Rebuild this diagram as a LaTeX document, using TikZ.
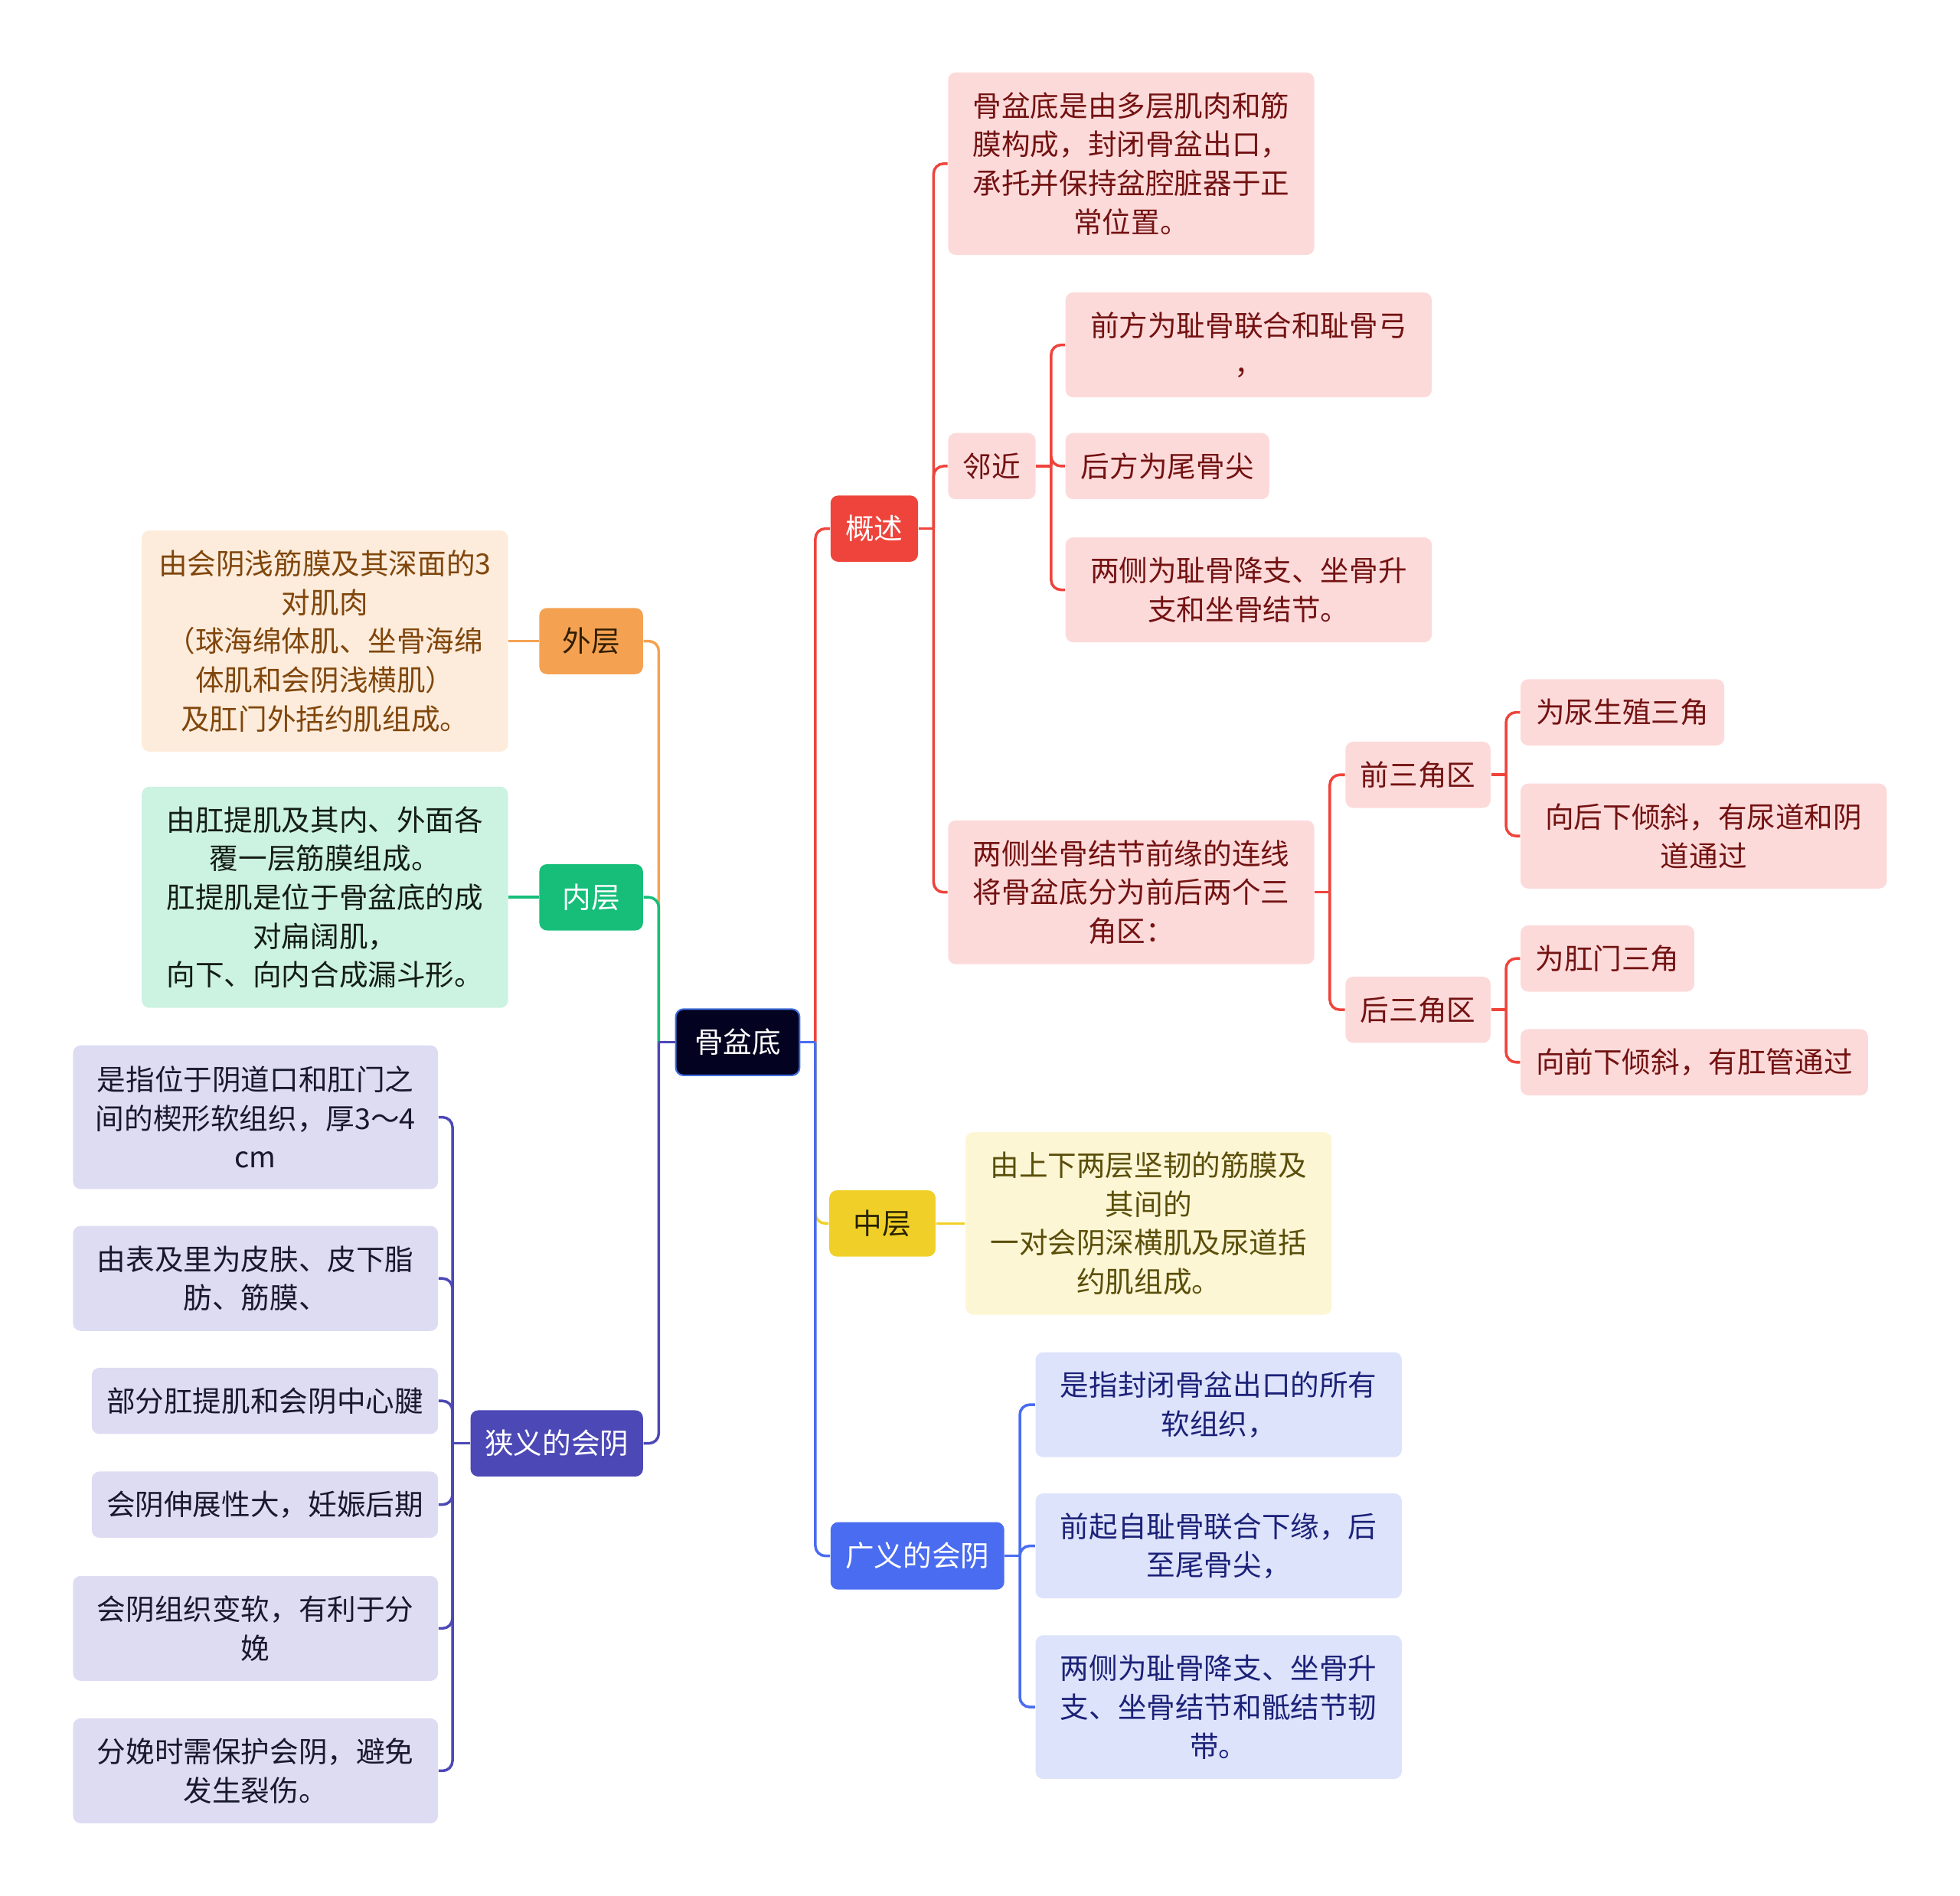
\documentclass[tikz,border=0pt]{standalone}
\usepackage{fontspec}
\usepackage{tikz}
\newfontfamily\cjk{Noto Sans CJK SC}
\definecolor{rootfill}{RGB}{3,3,33}
\definecolor{rootline}{RGB}{62,110,220}
\definecolor{redmain}{RGB}{238,68,60}
\definecolor{redsoft}{RGB}{253,218,218}
\definecolor{redtext}{RGB}{115,18,18}
\definecolor{yelmain}{RGB}{240,208,40}
\definecolor{yelsoft}{RGB}{253,246,212}
\definecolor{yeltext}{RGB}{90,78,10}
\definecolor{yeldark}{RGB}{40,35,0}
\definecolor{bluemain}{RGB}{74,108,240}
\definecolor{bluesoft}{RGB}{221,227,251}
\definecolor{bluetext}{RGB}{28,34,120}
\definecolor{orgmain}{RGB}{244,162,82}
\definecolor{orgsoft}{RGB}{253,236,219}
\definecolor{orgtext}{RGB}{128,70,12}
\definecolor{orgdark}{RGB}{50,30,0}
\definecolor{grnmain}{RGB}{22,190,122}
\definecolor{grnsoft}{RGB}{204,242,225}
\definecolor{grntext}{RGB}{20,30,20}
\definecolor{purmain}{RGB}{76,72,182}
\definecolor{pursoft}{RGB}{221,220,243}
\definecolor{purtext}{RGB}{25,25,45}

\tikzset{
  card/.style={rectangle, rounded corners=0.1cm, inner sep=0pt, align=center,
    anchor=west, font=\cjk\fontsize{10.7pt}{14.4pt}\selectfont},
  sz/.style 2 args={minimum width=#1*0.016327cm, minimum height=#2*0.016327cm},
  redcard/.style={card, fill=redsoft, text=redtext},
  yelcard/.style={card, fill=yelsoft, text=yeltext},
  bluecard/.style={card, fill=bluesoft, text=bluetext},
  orgcard/.style={card, fill=orgsoft, text=orgtext},
  grncard/.style={card, fill=grnsoft, text=grntext},
  purcard/.style={card, fill=pursoft, text=purtext},
  link/.style={line width=1pt, rounded corners=0.13cm}
}

\begin{document}
\begin{tikzpicture}[x=0.016327cm, y=-0.016327cm]

    \useasboundingbox (0,0) rectangle (1568,1517);

    % centre
    \node[card, sz={99}{53}, fill=rootfill, draw=rootline, line width=0.6pt,
      text=white] (root) at (540,834) {骨盆底};

    % right side
    \node[card, sz={70}{53}, fill=redmain, text=white] (gs) at (664,423) {概述};
    \node[card, sz={85}{53}, fill=yelmain, text=yeldark] (zc) at (663,979) {中层};
    \node[card, sz={139}{54}, fill=bluemain, text=white] (gy) at (664,1245) {广义的会阴};

    \node[redcard, sz={293}{146}] (gs1) at (758,131)
      {骨盆底是由多层肌肉和筋\\膜构成，封闭骨盆出口，\\承托并保持盆腔脏器于正\\常位置。};
    \node[redcard, sz={70}{53}] (lj) at (758,373) {邻近};
    \node[redcard, sz={293}{115}] (gs3) at (758,714)
      {两侧坐骨结节前缘的连线\\将骨盆底分为前后两个三\\角区：};

    \node[redcard, sz={293}{84}] (lj1) at (852,276) {前方为耻骨联合和耻骨弓\\，};
    \node[redcard, sz={163}{53}] (lj2) at (852,373) {后方为尾骨尖};
    \node[redcard, sz={293}{84}] (lj3) at (852,472) {两侧为耻骨降支、坐骨升\\支和坐骨结节。};

    \node[redcard, sz={116}{53}] (qsj) at (1076,620) {前三角区};
    \node[redcard, sz={116}{53}] (hsj) at (1076,808) {后三角区};
    \node[redcard, sz={163}{53}] (qs1) at (1216,570) {为尿生殖三角};
    \node[redcard, sz={293}{84}] (qs2) at (1216,669) {向后下倾斜，有尿道和阴\\道通过};
    \node[redcard, sz={139}{53}] (hs1) at (1216,767) {为肛门三角};
    \node[redcard, sz={278}{53}] (hs2) at (1216,850) {向前下倾斜，有肛管通过};

    \node[yelcard, sz={293}{146}] (zc1) at (772,979)
      {由上下两层坚韧的筋膜及\\其间的\\一对会阴深横肌及尿道括\\约肌组成。};

    \node[bluecard, sz={293}{84}] (gy1) at (828,1124) {是指封闭骨盆出口的所有\\软组织，};
    \node[bluecard, sz={293}{84}] (gy2) at (828,1237) {前起自耻骨联合下缘，后\\至尾骨尖，};
    \node[bluecard, sz={293}{115}] (gy3) at (828,1366)
      {两侧为耻骨降支、坐骨升\\支、坐骨结节和骶结节韧\\带。};

    % left side
    \node[card, sz={83}{53}, fill=orgmain, text=orgdark] (wc) at (431,513) {外层};
    \node[card, sz={83}{53}, fill=grnmain, text=white] (nc) at (431,718) {内层};
    \node[card, sz={138}{53}, fill=purmain, text=white] (xy) at (376,1155) {狭义的会阴};

    \node[orgcard, sz={293}{177}] (wc1) at (113,513)
      {由会阴浅筋膜及其深面的3\\对肌肉\\（球海绵体肌、坐骨海绵\\体肌和会阴浅横肌）\\及肛门外括约肌组成。};
    \node[grncard, sz={293}{177}] (nc1) at (113,718)
      {由肛提肌及其内、外面各\\覆一层筋膜组成。\\肛提肌是位于骨盆底的成\\对扁阔肌，\\向下、向内合成漏斗形。};

    \node[purcard, sz={292}{115}] (xy1) at (58,894)
      {是指位于阴道口和肛门之\\间的楔形软组织，厚3～4\\cm};
    \node[purcard, sz={292}{84}] (xy2) at (58,1023) {由表及里为皮肤、皮下脂\\肪、筋膜、};
    \node[purcard, sz={277}{53}] (xy3) at (73,1121) {部分肛提肌和会阴中心腱};
    \node[purcard, sz={277}{53}] (xy4) at (73,1204) {会阴伸展性大，妊娠后期};
    \node[purcard, sz={292}{84}] (xy5) at (58,1303) {会阴组织变软，有利于分\\娩};
    \node[purcard, sz={292}{84}] (xy6) at (58,1417) {分娩时需保护会阴，避免\\发生裂伤。};

    % links right
    \draw[link, redmain] (root.east) -- ++(12,0) coordinate (rj);
    \draw[link, redmain] (rj) |- (gs.west);
    \draw[link, yelmain] (rj) |- (zc.west);
    \draw[link, bluemain] (rj) |- (gy.west);
    \draw[link, bluemain] (root.east) -- (rj);

    \draw[link, redmain] (gs.east) -- ++(12,0) coordinate (gsj);
    \foreach \c in {gs1,lj,gs3} \draw[link, redmain] (gsj) |- (\c.west);
    \draw[link, redmain] (lj.east) -- ++(12,0) coordinate (ljj);
    \foreach \c in {lj1,lj2,lj3} \draw[link, redmain] (ljj) |- (\c.west);
    \draw[link, redmain] (gs3.east) -- ++(12,0) coordinate (gs3j);
    \foreach \c in {qsj,hsj} \draw[link, redmain] (gs3j) |- (\c.west);
    \draw[link, redmain] (qsj.east) -- ++(12,0) coordinate (qsjj);
    \foreach \c in {qs1,qs2} \draw[link, redmain] (qsjj) |- (\c.west);
    \draw[link, redmain] (hsj.east) -- ++(12,0) coordinate (hsjj);
    \foreach \c in {hs1,hs2} \draw[link, redmain] (hsjj) |- (\c.west);

    \draw[link, yelmain] (zc.east) -- (zc1.west);

    \draw[link, bluemain] (gy.east) -- ++(12,0) coordinate (gyj);
    \foreach \c in {gy1,gy2,gy3} \draw[link, bluemain] (gyj) |- (\c.west);

    % links left
    \draw[link, orgmain] (root.west) -- ++(-13,0) coordinate (lt);
    \draw[link, orgmain] (lt) |- (wc.east);
    \draw[link, grnmain] (lt) |- (nc.east);
    \draw[link, purmain] (lt) |- (xy.east);
    \draw[link, purmain] (root.west) -- (lt);

    \draw[link, orgmain] (wc.west) -- (wc1.east);
    \draw[link, grnmain] (nc.west) -- (nc1.east);

    \draw[link, purmain] (xy.west) -- ++(-14,0) coordinate (xyj);
    \foreach \c in {xy1,xy2,xy3,xy4,xy5,xy6} \draw[link, purmain] (xyj) |- (\c.east);

  \end{tikzpicture}
\end{document}
